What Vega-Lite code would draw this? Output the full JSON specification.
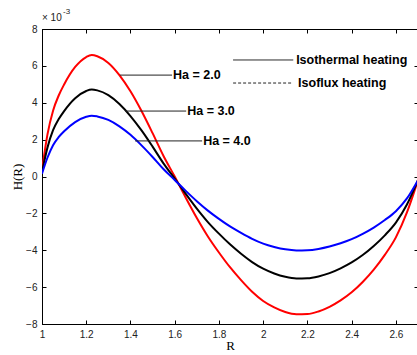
{
  "$schema": "https://vega.github.io/schema/vega-lite/v6.json",
  "width": 376,
  "height": 295,
  "autosize": {"type": "none"},
  "padding": {"left": 42, "top": 29, "right": 0, "bottom": 31},
  "background": "white",
  "config": {
    "view": {"stroke": "black", "strokeWidth": 1},
    "axis": {
      "domainColor": "black",
      "tickColor": "black",
      "labelColor": "#222222",
      "labelFont": "Liberation Sans",
      "labelFontSize": 10,
      "labelFlush": false,
      "labelOverlap": false,
      "grid": false,
      "tickSize": -4,
      "titleFont": "Liberation Serif",
      "titleFontWeight": "normal",
      "titleFontSize": 13,
      "titleColor": "black"
    }
  },
  "datasets": {
    "curves": [
      {"R": 1.0, "H": 0.00035, "Ha": "2.0"},
      {"R": 1.025, "H": 0.0023, "Ha": "2.0"},
      {"R": 1.05, "H": 0.00357, "Ha": "2.0"},
      {"R": 1.075, "H": 0.00438, "Ha": "2.0"},
      {"R": 1.1, "H": 0.00499, "Ha": "2.0"},
      {"R": 1.15, "H": 0.00594, "Ha": "2.0"},
      {"R": 1.2, "H": 0.00648, "Ha": "2.0"},
      {"R": 1.225, "H": 0.00659, "Ha": "2.0"},
      {"R": 1.25, "H": 0.00652, "Ha": "2.0"},
      {"R": 1.3, "H": 0.00616, "Ha": "2.0"},
      {"R": 1.35, "H": 0.0055, "Ha": "2.0"},
      {"R": 1.4, "H": 0.00462, "Ha": "2.0"},
      {"R": 1.45, "H": 0.00355, "Ha": "2.0"},
      {"R": 1.5, "H": 0.00235, "Ha": "2.0"},
      {"R": 1.55, "H": 0.0011, "Ha": "2.0"},
      {"R": 1.6, "H": 0.0, "Ha": "2.0"},
      {"R": 1.65, "H": -0.00115, "Ha": "2.0"},
      {"R": 1.7, "H": -0.00225, "Ha": "2.0"},
      {"R": 1.75, "H": -0.00325, "Ha": "2.0"},
      {"R": 1.8, "H": -0.00412, "Ha": "2.0"},
      {"R": 1.85, "H": -0.00492, "Ha": "2.0"},
      {"R": 1.9, "H": -0.00562, "Ha": "2.0"},
      {"R": 1.95, "H": -0.00625, "Ha": "2.0"},
      {"R": 2.0, "H": -0.00675, "Ha": "2.0"},
      {"R": 2.05, "H": -0.0071, "Ha": "2.0"},
      {"R": 2.1, "H": -0.00735, "Ha": "2.0"},
      {"R": 2.15, "H": -0.00747, "Ha": "2.0"},
      {"R": 2.2, "H": -0.00746, "Ha": "2.0"},
      {"R": 2.25, "H": -0.00732, "Ha": "2.0"},
      {"R": 2.3, "H": -0.00707, "Ha": "2.0"},
      {"R": 2.35, "H": -0.00672, "Ha": "2.0"},
      {"R": 2.4, "H": -0.00628, "Ha": "2.0"},
      {"R": 2.45, "H": -0.00572, "Ha": "2.0"},
      {"R": 2.5, "H": -0.00505, "Ha": "2.0"},
      {"R": 2.55, "H": -0.00425, "Ha": "2.0"},
      {"R": 2.6, "H": -0.0033, "Ha": "2.0"},
      {"R": 2.65, "H": -0.00195, "Ha": "2.0"},
      {"R": 2.7, "H": -0.0002, "Ha": "2.0"},

      {"R": 1.0, "H": 0.00025, "Ha": "3.0"},
      {"R": 1.025, "H": 0.00158, "Ha": "3.0"},
      {"R": 1.05, "H": 0.00251, "Ha": "3.0"},
      {"R": 1.075, "H": 0.0031, "Ha": "3.0"},
      {"R": 1.1, "H": 0.00355, "Ha": "3.0"},
      {"R": 1.15, "H": 0.00425, "Ha": "3.0"},
      {"R": 1.2, "H": 0.00464, "Ha": "3.0"},
      {"R": 1.225, "H": 0.00472, "Ha": "3.0"},
      {"R": 1.25, "H": 0.00467, "Ha": "3.0"},
      {"R": 1.3, "H": 0.00441, "Ha": "3.0"},
      {"R": 1.35, "H": 0.00393, "Ha": "3.0"},
      {"R": 1.4, "H": 0.00328, "Ha": "3.0"},
      {"R": 1.45, "H": 0.0025, "Ha": "3.0"},
      {"R": 1.5, "H": 0.00162, "Ha": "3.0"},
      {"R": 1.55, "H": 0.0007, "Ha": "3.0"},
      {"R": 1.6, "H": -0.00011, "Ha": "3.0"},
      {"R": 1.65, "H": -0.00094, "Ha": "3.0"},
      {"R": 1.7, "H": -0.00174, "Ha": "3.0"},
      {"R": 1.75, "H": -0.00247, "Ha": "3.0"},
      {"R": 1.8, "H": -0.0031, "Ha": "3.0"},
      {"R": 1.85, "H": -0.00368, "Ha": "3.0"},
      {"R": 1.9, "H": -0.00419, "Ha": "3.0"},
      {"R": 1.95, "H": -0.00464, "Ha": "3.0"},
      {"R": 2.0, "H": -0.005, "Ha": "3.0"},
      {"R": 2.05, "H": -0.00526, "Ha": "3.0"},
      {"R": 2.1, "H": -0.00544, "Ha": "3.0"},
      {"R": 2.15, "H": -0.00553, "Ha": "3.0"},
      {"R": 2.2, "H": -0.00552, "Ha": "3.0"},
      {"R": 2.25, "H": -0.00542, "Ha": "3.0"},
      {"R": 2.3, "H": -0.00524, "Ha": "3.0"},
      {"R": 2.35, "H": -0.00498, "Ha": "3.0"},
      {"R": 2.4, "H": -0.00466, "Ha": "3.0"},
      {"R": 2.45, "H": -0.00426, "Ha": "3.0"},
      {"R": 2.5, "H": -0.00377, "Ha": "3.0"},
      {"R": 2.55, "H": -0.00319, "Ha": "3.0"},
      {"R": 2.6, "H": -0.0025, "Ha": "3.0"},
      {"R": 2.65, "H": -0.00152, "Ha": "3.0"},
      {"R": 2.7, "H": -0.0002, "Ha": "3.0"},

      {"R": 1.0, "H": 0.00015, "Ha": "4.0"},
      {"R": 1.025, "H": 0.00103, "Ha": "4.0"},
      {"R": 1.05, "H": 0.0017, "Ha": "4.0"},
      {"R": 1.075, "H": 0.00213, "Ha": "4.0"},
      {"R": 1.1, "H": 0.00245, "Ha": "4.0"},
      {"R": 1.15, "H": 0.00295, "Ha": "4.0"},
      {"R": 1.2, "H": 0.00324, "Ha": "4.0"},
      {"R": 1.225, "H": 0.0033, "Ha": "4.0"},
      {"R": 1.25, "H": 0.00326, "Ha": "4.0"},
      {"R": 1.3, "H": 0.00307, "Ha": "4.0"},
      {"R": 1.35, "H": 0.00272, "Ha": "4.0"},
      {"R": 1.4, "H": 0.00226, "Ha": "4.0"},
      {"R": 1.45, "H": 0.00169, "Ha": "4.0"},
      {"R": 1.5, "H": 0.00106, "Ha": "4.0"},
      {"R": 1.55, "H": 0.00039, "Ha": "4.0"},
      {"R": 1.6, "H": -0.00019, "Ha": "4.0"},
      {"R": 1.65, "H": -0.00078, "Ha": "4.0"},
      {"R": 1.7, "H": -0.00134, "Ha": "4.0"},
      {"R": 1.75, "H": -0.00185, "Ha": "4.0"},
      {"R": 1.8, "H": -0.0023, "Ha": "4.0"},
      {"R": 1.85, "H": -0.00271, "Ha": "4.0"},
      {"R": 1.9, "H": -0.00306, "Ha": "4.0"},
      {"R": 1.95, "H": -0.00338, "Ha": "4.0"},
      {"R": 2.0, "H": -0.00364, "Ha": "4.0"},
      {"R": 2.05, "H": -0.00382, "Ha": "4.0"},
      {"R": 2.1, "H": -0.00395, "Ha": "4.0"},
      {"R": 2.15, "H": -0.00401, "Ha": "4.0"},
      {"R": 2.2, "H": -0.004, "Ha": "4.0"},
      {"R": 2.25, "H": -0.00393, "Ha": "4.0"},
      {"R": 2.3, "H": -0.0038, "Ha": "4.0"},
      {"R": 2.35, "H": -0.00362, "Ha": "4.0"},
      {"R": 2.4, "H": -0.0034, "Ha": "4.0"},
      {"R": 2.45, "H": -0.00311, "Ha": "4.0"},
      {"R": 2.5, "H": -0.00277, "Ha": "4.0"},
      {"R": 2.55, "H": -0.00236, "Ha": "4.0"},
      {"R": 2.6, "H": -0.00188, "Ha": "4.0"},
      {"R": 2.65, "H": -0.00119, "Ha": "4.0"},
      {"R": 2.7, "H": -0.0002, "Ha": "4.0"}
    ],
    "leaders": [
      {"R": 1.353, "R2": 1.588, "H": 0.0055, "label": "Ha = 2.0"},
      {"R": 1.376, "R2": 1.652, "H": 0.00355, "label": "Ha = 3.0"},
      {"R": 1.421, "R2": 1.724, "H": 0.00193, "label": "Ha = 4.0"}
    ],
    "keys": [
      {"R": 1.864, "R2": 2.136, "H": 0.00632, "Rt": 2.149, "kind": "Isothermal heating"},
      {"R": 1.864, "R2": 2.127, "H": 0.00507, "Rt": 2.158, "kind": "Isoflux heating"}
    ],
    "exponent": [
      {"R": 1.0, "H": 0.00843, "t": "× 10", "size": "base"},
      {"R": 1.095, "H": 0.00881, "t": "-3", "size": "sup"}
    ]
  },
  "layer": [
    {
      "data": {"name": "curves"},
      "mark": {"type": "line", "strokeWidth": 2, "interpolate": "monotone", "clip": true},
      "encoding": {
        "x": {
          "field": "R", "type": "quantitative",
          "scale": {"domain": [1, 2.7], "nice": false, "zero": false},
          "axis": {
            "orient": "bottom",
            "values": [1, 1.2, 1.4, 1.6, 1.8, 2, 2.2, 2.4, 2.6],
            "format": "~g",
            "labelPadding": 9,
            "title": "R",
            "titlePadding": 0
          }
        },
        "y": {
          "field": "H", "type": "quantitative",
          "scale": {"domain": [-0.008, 0.008], "nice": false, "zero": false},
          "axis": {
            "orient": "left",
            "values": [-0.008, -0.006, -0.004, -0.002, 0, 0.002, 0.004, 0.006, 0.008],
            "labelExpr": "format(datum.value * 1000, 'd')",
            "labelPadding": 9,
            "title": "H(R)",
            "titlePadding": 1
          }
        },
        "color": {
          "field": "Ha", "type": "nominal",
          "scale": {"domain": ["2.0", "3.0", "4.0"], "range": ["#ff0000", "#000000", "#0000ff"]},
          "legend": null
        },
        "detail": {"field": "Ha"}
      }
    },
    {
      "data": {"name": "curves"},
      "mark": {"type": "point", "opacity": 0},
      "encoding": {
        "x": {
          "field": "R", "type": "quantitative",
          "axis": {
            "orient": "top",
            "values": [1, 1.2, 1.4, 1.6, 1.8, 2, 2.2, 2.4, 2.6],
            "labels": false,
            "title": null
          }
        },
        "y": {
          "field": "H", "type": "quantitative",
          "axis": {
            "orient": "right",
            "values": [-0.008, -0.006, -0.004, -0.002, 0, 0.002, 0.004, 0.006, 0.008],
            "labels": false,
            "title": null
          }
        }
      }
    },
    {
      "data": {"name": "leaders"},
      "mark": {"type": "rule", "color": "#222222", "strokeWidth": 1},
      "encoding": {
        "x": {"field": "R", "type": "quantitative", "axis": null},
        "x2": {"field": "R2"},
        "y": {"field": "H", "type": "quantitative", "axis": null}
      }
    },
    {
      "data": {"name": "leaders"},
      "mark": {"type": "text", "align": "left", "baseline": "middle", "dx": 1, "font": "Liberation Sans", "fontWeight": "bold", "fontSize": 12.5, "color": "black"},
      "encoding": {
        "x": {"field": "R2", "type": "quantitative", "axis": null},
        "y": {"field": "H", "type": "quantitative", "axis": null},
        "text": {"field": "label"}
      }
    },
    {
      "data": {"name": "keys"},
      "mark": {"type": "rule", "color": "#222222", "strokeWidth": 1},
      "encoding": {
        "x": {"field": "R", "type": "quantitative", "axis": null},
        "x2": {"field": "R2"},
        "y": {"field": "H", "type": "quantitative", "axis": null},
        "strokeDash": {
          "field": "kind", "type": "nominal",
          "scale": {"domain": ["Isothermal heating", "Isoflux heating"], "range": [[1, 0], [3, 2]]},
          "legend": null
        }
      }
    },
    {
      "data": {"name": "keys"},
      "mark": {"type": "text", "align": "left", "baseline": "middle", "font": "Liberation Sans", "fontWeight": "bold", "fontSize": 12.5, "color": "black"},
      "encoding": {
        "x": {"field": "Rt", "type": "quantitative", "axis": null},
        "y": {"field": "H", "type": "quantitative", "axis": null},
        "text": {"field": "kind"}
      }
    },
    {
      "data": {"name": "exponent"},
      "mark": {"type": "text", "align": "left", "baseline": "alphabetic", "font": "Liberation Sans", "color": "#222222"},
      "encoding": {
        "x": {"field": "R", "type": "quantitative", "axis": null},
        "y": {"field": "H", "type": "quantitative", "axis": null},
        "text": {"field": "t"},
        "size": {
          "field": "size", "type": "nominal",
          "scale": {"domain": ["base", "sup"], "range": [10, 8]},
          "legend": null
        }
      }
    }
  ],
  "resolve": {"axis": {"x": "independent", "y": "independent"}}
}
